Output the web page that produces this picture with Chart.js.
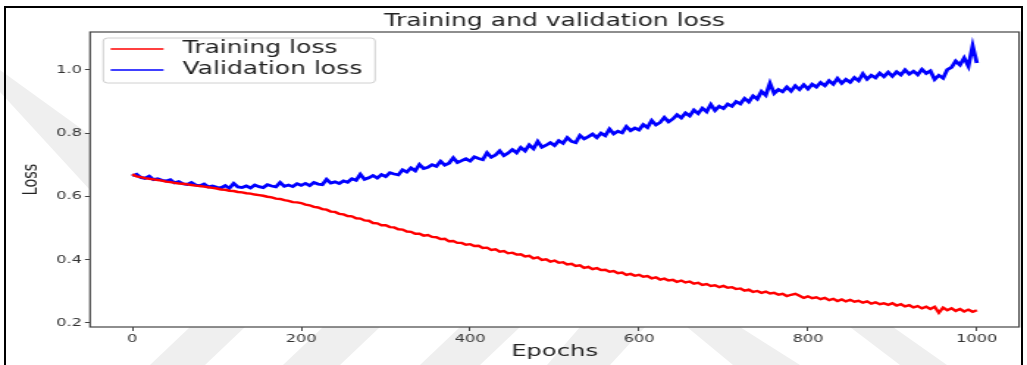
<!DOCTYPE html>
<html>
<head>
<meta charset="utf-8">
<title>Training and validation loss</title>
<script src="https://cdn.jsdelivr.net/npm/chart.js@4.4.1/dist/chart.umd.min.js"></script>
<style>
    html, body { margin: 0; padding: 0; background: #fff; }
    body { width: 1027px; height: 365px; position: relative; overflow: hidden; }
    /* faint watermark bands behind the figure */
    .mark { position: absolute; left: 0; top: 0; width: 1027px; height: 365px; background: #efefef; }
    #frame { position: absolute; left: 4px; top: 6px; width: 1015px; height: 400px; border: 2px solid #000; }
    /* the source picture is stretched sideways, so the canvas is too */
    #wrap { position: absolute; left: 0; top: 0; width: 699px; height: 365px; transform-origin: 0 0; transform: scaleX(1.46924); }
</style>
</head>
<body>
<div class="mark" style="clip-path: polygon(0 70px, 90px 135px, 90px 190px, 0 92px)"></div>
<div class="mark" style="clip-path: polygon(150px 365px, 205px 365px, 245px 327px, 190px 327px)"></div>
<div class="mark" style="clip-path: polygon(283px 365px, 340px 365px, 380px 327px, 323px 327px)"></div>
<div class="mark" style="clip-path: polygon(420px 365px, 480px 365px, 520px 327px, 460px 327px)"></div>
<div class="mark" style="clip-path: polygon(547px 365px, 610px 365px, 645px 327px, 580px 327px)"></div>
<div class="mark" style="clip-path: polygon(687px 327px, 740px 327px, 800px 365px, 733px 365px)"></div>
<div class="mark" style="clip-path: polygon(850px 327px, 893px 327px, 947px 365px, 900px 365px)"></div>

<div id="wrap"><canvas id="lossChart" width="699" height="365"></canvas></div>
<div id="frame"></div>

<script>
// one value every 5 epochs
const epochStep = 5;

const trainingLoss = [
    0.670, 0.663, 0.661, 0.658, 0.656, 0.654, 0.652, 0.650, 0.647, 0.645,
    0.643, 0.641, 0.640, 0.638, 0.636, 0.634, 0.633, 0.631, 0.629, 0.627,
    0.625, 0.622, 0.621, 0.618, 0.617, 0.614, 0.613, 0.610, 0.609, 0.606,
    0.604, 0.602, 0.599, 0.597, 0.593, 0.592, 0.588, 0.586, 0.582, 0.581,
    0.579, 0.574, 0.572, 0.567, 0.565, 0.560, 0.558, 0.552, 0.551, 0.545,
    0.543, 0.538, 0.537, 0.531, 0.530, 0.524, 0.523, 0.516, 0.515, 0.509,
    0.509, 0.503, 0.502, 0.496, 0.495, 0.489, 0.488, 0.482, 0.482, 0.476,
    0.478, 0.472, 0.471, 0.465, 0.466, 0.458, 0.459, 0.453, 0.453, 0.447,
    0.449, 0.443, 0.444, 0.437, 0.438, 0.431, 0.433, 0.425, 0.427, 0.420,
    0.422, 0.416, 0.417, 0.410, 0.412, 0.404, 0.407, 0.399, 0.401, 0.394,
    0.397, 0.390, 0.392, 0.385, 0.387, 0.380, 0.382, 0.374, 0.377, 0.370,
    0.373, 0.367, 0.368, 0.362, 0.364, 0.357, 0.359, 0.352, 0.355, 0.349,
    0.352, 0.346, 0.348, 0.341, 0.344, 0.337, 0.340, 0.334, 0.336, 0.330,
    0.334, 0.328, 0.331, 0.324, 0.327, 0.320, 0.323, 0.317, 0.319, 0.313,
    0.317, 0.311, 0.313, 0.307, 0.309, 0.302, 0.305, 0.298, 0.301, 0.295,
    0.299, 0.293, 0.295, 0.289, 0.292, 0.285, 0.289, 0.292, 0.286, 0.279,
    0.284, 0.278, 0.281, 0.275, 0.279, 0.272, 0.276, 0.269, 0.274, 0.268,
    0.273, 0.267, 0.270, 0.264, 0.268, 0.261, 0.265, 0.259, 0.262, 0.257,
    0.262, 0.255, 0.259, 0.252, 0.256, 0.249, 0.253, 0.246, 0.251, 0.244,
    0.251, 0.232, 0.248, 0.240, 0.246, 0.238, 0.244, 0.236, 0.242, 0.235,
    0.240
];

const validationLoss = [
    0.665, 0.670, 0.660, 0.657, 0.664, 0.653, 0.656, 0.651, 0.649, 0.653,
    0.643, 0.647, 0.640, 0.638, 0.644, 0.636, 0.634, 0.639, 0.630, 0.633,
    0.629, 0.627, 0.634, 0.626, 0.641, 0.630, 0.628, 0.633, 0.627, 0.636,
    0.631, 0.628, 0.637, 0.633, 0.630, 0.644, 0.632, 0.636, 0.631, 0.640,
    0.635, 0.641, 0.634, 0.644, 0.639, 0.637, 0.654, 0.642, 0.646, 0.641,
    0.649, 0.645, 0.656, 0.651, 0.670, 0.654, 0.659, 0.666, 0.658, 0.669,
    0.663, 0.675, 0.671, 0.668, 0.684, 0.677, 0.690, 0.681, 0.701, 0.688,
    0.692, 0.700, 0.695, 0.711, 0.699, 0.705, 0.722, 0.707, 0.713, 0.719,
    0.712, 0.725, 0.720, 0.716, 0.738, 0.724, 0.731, 0.744, 0.729, 0.737,
    0.748, 0.738, 0.755, 0.744, 0.763, 0.751, 0.774, 0.756, 0.762, 0.770,
    0.761, 0.776, 0.768, 0.786, 0.774, 0.770, 0.793, 0.782, 0.789, 0.797,
    0.786, 0.800, 0.792, 0.813, 0.798, 0.806, 0.801, 0.821, 0.808, 0.816,
    0.810, 0.827, 0.818, 0.840, 0.826, 0.834, 0.850, 0.836, 0.845, 0.858,
    0.848, 0.864, 0.855, 0.873, 0.862, 0.879, 0.868, 0.891, 0.872, 0.885,
    0.878, 0.892, 0.885, 0.900, 0.893, 0.910, 0.899, 0.918, 0.908, 0.932,
    0.920, 0.958, 0.926, 0.938, 0.931, 0.946, 0.933, 0.950, 0.938, 0.953,
    0.940, 0.955, 0.946, 0.960, 0.950, 0.966, 0.955, 0.973, 0.958, 0.970,
    0.961, 0.976, 0.966, 0.988, 0.971, 0.983, 0.975, 0.990, 0.979, 0.993,
    0.980, 0.994, 0.984, 1.000, 0.987, 0.996, 0.985, 1.002, 0.989, 0.997,
    0.970, 0.983, 0.974, 1.001, 1.008, 1.028, 1.016, 1.038, 1.012, 1.076,
    1.022
];

const xTickValues = [0, 200, 400, 600, 800, 1000];
const yTickValues = [0.2, 0.4, 0.6, 0.8, 1.0];

const epochs = trainingLoss.map((_, i) => i * epochStep);

const FONT = "'DejaVu Sans', sans-serif";

// white plot area + box spines
const plotBox = {
    id: 'plotBox',
    beforeDraw(chart) {
        const { ctx, chartArea: a } = chart;
        ctx.save();
        ctx.fillStyle = '#fff';
        ctx.fillRect(a.left, a.top, a.width, a.height);
        ctx.restore();
    },
    afterDatasetsDraw(chart) {
        const { ctx, chartArea: a } = chart;
        ctx.save();
        ctx.strokeStyle = '#444';
        ctx.lineWidth = 1.2;
        ctx.strokeRect(a.left, a.top, a.width, a.height);
        ctx.restore();
    }
};

// matplotlib style legend in the upper left corner
const boxLegend = {
    id: 'boxLegend',
    afterDraw(chart) {
        const { ctx, chartArea: a } = chart;
        const x = a.left + 9, y = a.top + 6, w = 185, h = 45;
        ctx.save();
        ctx.beginPath();
        ctx.roundRect(x, y, w, h, 3);
        ctx.fillStyle = 'rgba(255,255,255,0.85)';
        ctx.fill();
        ctx.strokeStyle = '#d0d0d0';
        ctx.lineWidth = 1;
        ctx.stroke();

        ctx.font = '17px ' + FONT;
        ctx.textBaseline = 'middle';
        chart.data.datasets.forEach((ds, i) => {
            const ly = y + 11 + i * 21;
            ctx.beginPath();
            ctx.moveTo(x + 5, ly);
            ctx.lineTo(x + 41, ly);
            ctx.strokeStyle = ds.borderColor;
            ctx.lineWidth = 1.5;
            ctx.stroke();
            ctx.fillStyle = '#222';
            ctx.fillText(ds.label, x + 54, ly);
        });
        ctx.restore();
    }
};

new Chart(document.getElementById('lossChart'), {
    type: 'line',
    data: {
        datasets: [
            {
                label: 'Training loss',
                data: epochs.map((e, i) => ({ x: e, y: trainingLoss[i] })),
                borderColor: '#ff0000',
                borderWidth: 2.4
            },
            {
                label: 'Validation loss',
                data: epochs.map((e, i) => ({ x: e, y: validationLoss[i] })),
                borderColor: '#0000ff',
                borderWidth: 2.8
            }
        ]
    },
    options: {
        responsive: false,
        animation: false,
        devicePixelRatio: 1,
        elements: { point: { radius: 0 }, line: { tension: 0, borderJoinStyle: 'miter' } },
        layout: { padding: { left: 0, right: 5.4, top: 0, bottom: 0 } },
        plugins: {
            legend: { display: false },
            tooltip: { enabled: false },
            title: {
                display: true,
                text: 'Training and validation loss',
                fullSize: false,
                color: '#222',
                font: { family: FONT, size: 17, weight: 'normal' },
                padding: { top: 11, bottom: 0.6 }
            }
        },
        scales: {
            x: {
                type: 'linear',
                min: -50,
                max: 1050,
                afterBuildTicks: s => { s.ticks = xTickValues.map(v => ({ value: v })); },
                afterFit: s => { s.height = 38; },
                grid: { drawOnChartArea: false, drawTicks: true, tickLength: 4, color: '#444' },
                border: { display: false },
                ticks: {
                    color: '#333',
                    padding: 2,
                    maxRotation: 0,
                    font: { family: FONT, size: 11 },
                    callback: v => String(v)
                },
                title: {
                    display: true,
                    text: 'Epochs',
                    color: '#222',
                    font: { family: FONT, size: 16.5 },
                    padding: { top: 0, bottom: 3.4 }
                }
            },
            y: {
                min: 0.187,
                max: 1.12,
                afterBuildTicks: s => { s.ticks = yTickValues.map(v => ({ value: v })); },
                afterFit: s => { s.width = 61.3; },
                grid: { drawOnChartArea: false, drawTicks: true, tickLength: 3.5, color: '#444' },
                border: { display: false },
                ticks: {
                    color: '#333',
                    padding: 2,
                    font: { family: FONT, size: 11 },
                    callback: v => v.toFixed(1)
                },
                title: {
                    display: true,
                    text: 'Loss',
                    color: '#222',
                    font: { family: FONT, size: 14.5 },
                    padding: { top: 13, bottom: 0 }
                }
            }
        }
    },
    plugins: [plotBox, boxLegend]
});
</script>
</body>
</html>
